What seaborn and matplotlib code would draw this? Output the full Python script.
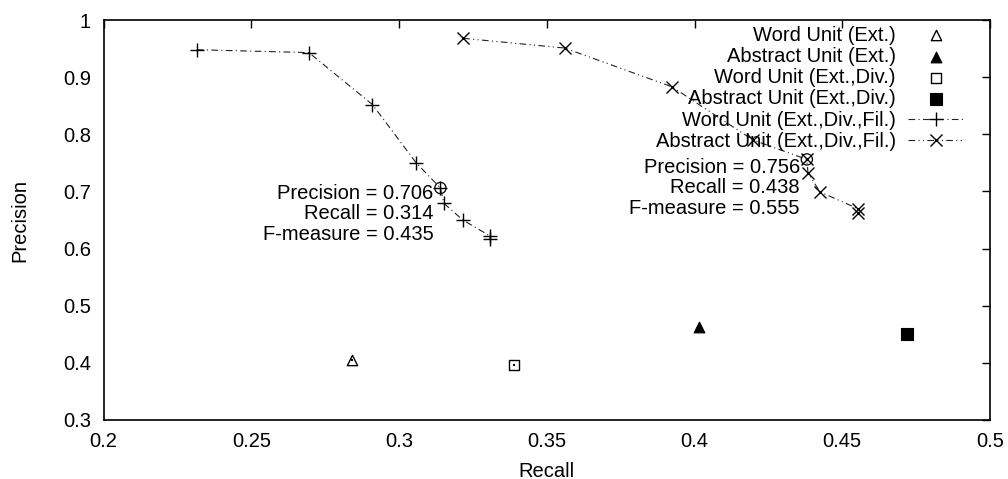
import numpy as np
import pandas as pd
import matplotlib
matplotlib.use("Agg")
import matplotlib.pyplot as plt
import seaborn as sns

# single points (Recall, Precision)
word_ext = (0.284, 0.405)
abstract_ext = (0.4015, 0.462)
word_ext_div = (0.339, 0.397)
abstract_ext_div = (0.472, 0.450)

# curves (Ext.,Div.,Fil.)
word_fil_recall = [0.2316, 0.2695, 0.291, 0.3058, 0.314, 0.3152, 0.3216, 0.3308, 0.3308]
word_fil_precision = [0.948, 0.943, 0.852, 0.750, 0.706, 0.679, 0.650, 0.622, 0.616]
abs_fil_recall = [0.3217, 0.356, 0.3924, 0.4198, 0.438, 0.4384, 0.4425, 0.4552, 0.4552]
abs_fil_precision = [0.968, 0.951, 0.883, 0.790, 0.756, 0.732, 0.699, 0.670, 0.662]

# highlighted points (precision, recall, f-measure)
best_word = (0.706, 0.314, 0.435)
best_abs = (0.756, 0.438, 0.555)

x_ticks = [0.2, 0.25, 0.3, 0.35, 0.4, 0.45, 0.5]
y_ticks = [0.3, 0.4, 0.5, 0.6, 0.7, 0.8, 0.9, 1]

sns.set_theme(style="white")
plt.rcParams["font.family"] = ["Liberation Sans", "DejaVu Sans"]
fs = 14.5

fig = plt.figure(figsize=(10.08, 4.79), dpi=100)
ax = fig.add_axes([0.1027, 0.1232, 0.8795, 0.835])

line_col = "#222222"

# scatter points
sns.scatterplot(x=[word_ext[0]], y=[word_ext[1]], marker="^", s=55, facecolor="white",
                edgecolor="black", linewidth=1.0, label="Word Unit (Ext.)", ax=ax, zorder=3)
sns.scatterplot(x=[abstract_ext[0]], y=[abstract_ext[1]], marker="^", s=60, color="black",
                edgecolor="black", linewidth=0.8, label="Abstract Unit (Ext.)", ax=ax, zorder=3)
sns.scatterplot(x=[word_ext_div[0]], y=[word_ext_div[1]], marker="s", s=60, facecolor="white",
                edgecolor="black", linewidth=1.0, label="Word Unit (Ext.,Div.)", ax=ax, zorder=3)
sns.scatterplot(x=[abstract_ext_div[0]], y=[abstract_ext_div[1]], marker="s", s=70, color="black",
                edgecolor="black", linewidth=0.8, label="Abstract Unit (Ext.,Div.)", ax=ax, zorder=3)
# centre dots of the open markers
sns.scatterplot(x=[word_ext[0], word_ext_div[0]], y=[word_ext[1], word_ext_div[1]], marker="s",
                s=2, color="black", linewidth=0, ax=ax, zorder=4, legend=False)

# curves
sns.lineplot(x=word_fil_recall, y=word_fil_precision, sort=False, estimator=None,
             color=line_col, linewidth=0.8, linestyle=(0, (6, 3, 1, 3)),
             marker="+", markersize=10, markeredgewidth=1.0, markeredgecolor="black",
             label="Word Unit (Ext.,Div.,Fil.)", ax=ax)
sns.lineplot(x=abs_fil_recall, y=abs_fil_precision, sort=False, estimator=None,
             color=line_col, linewidth=0.8, linestyle=(0, (6, 3, 1, 3, 1, 3)),
             marker="x", markersize=8.5, markeredgewidth=1.0, markeredgecolor="black",
             label="Abstract Unit (Ext.,Div.,Fil.)", ax=ax)

# highlighted circles + annotations
for (p, r, f), dy in [(best_word, -18.5), (best_abs, -20.5)]:
    sns.scatterplot(x=[r], y=[p], marker="o", s=65, facecolor="none", edgecolor="black",
                    linewidth=0.9, ax=ax, zorder=5, legend=False)
    ax.annotate(f"Precision = {p:.3f}\nRecall = {r:.3f}\nF-measure = {f:.3f}",
                xy=(r, p), xytext=(-5, dy), textcoords="offset points",
                ha="right", va="center", multialignment="right",
                fontsize=fs, linespacing=1.1, color="black")

ax.set_xlim(0.2, 0.5)
ax.set_ylim(0.3, 1.0)
ax.set_xticks(x_ticks)
ax.set_xticklabels([f"{v:g}" for v in x_ticks])
ax.set_yticks(y_ticks)
ax.set_yticklabels([f"{v:g}" for v in y_ticks])
ax.tick_params(direction="in", length=6, width=1, colors="black", labelsize=fs,
               top=True, right=True)
ax.tick_params(axis="x", pad=9)
ax.tick_params(axis="y", pad=9)
for sp in ax.spines.values():
    sp.set_visible(True)
    sp.set_color("black")
    sp.set_linewidth(1.2)

ax.set_xlabel("Recall", fontsize=fs, color="black", labelpad=7.5)
ax.set_ylabel("Precision", fontsize=fs, color="black", labelpad=24)

handles, labels = ax.get_legend_handles_labels()
leg = ax.legend(handles, labels, loc="upper right", bbox_to_anchor=(0.986, 1.021),
                frameon=False, markerfirst=False, fontsize=fs, handlelength=2.75,
                handletextpad=0.62, labelspacing=0.11, borderpad=0.2)
for t in leg.get_texts():
    t.set_color("black")

fig.savefig("out.png", dpi=100)
